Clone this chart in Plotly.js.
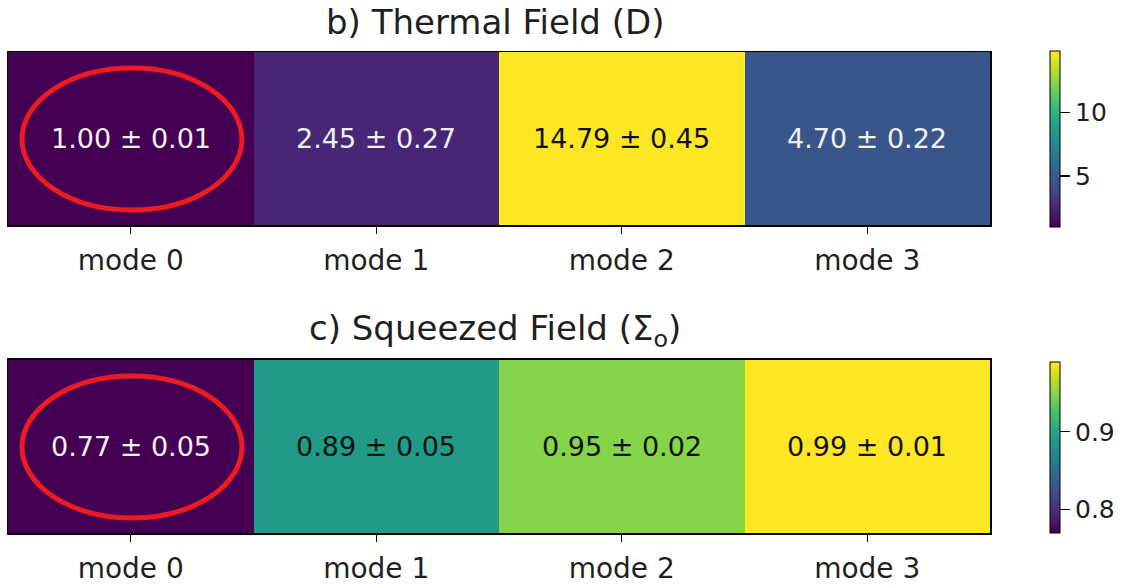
<!DOCTYPE html>
<html>
<head>
<meta charset="utf-8">
<script src="https://cdn.plot.ly/plotly-3.0.1.min.js"></script>
<style>
  html, body { margin: 0; padding: 0; background: #ffffff; }
  #chart { width: 1132px; height: 588px; }
</style>
</head>
<body>
<div id="chart"></div>
<script>
// Mode labels shared by both panels
const modes = ["mode 0", "mode 1", "mode 2", "mode 3"];

// Panel b: thermal field D, mean and uncertainty per mode
const thermalMean = [1.00, 2.45, 14.79, 4.70];
const thermalErr = [0.01, 0.27, 0.45, 0.22];

// Panel c: squeezed field, mean and uncertainty per mode
const squeezedMean = [0.77, 0.89, 0.95, 0.99];
const squeezedErr = [0.05, 0.05, 0.02, 0.01];

// Panel titles and colorbar ticks
const thermalTitle = "b) Thermal Field (D)";
const squeezedTitle = "c) Squeezed Field (Σ<sub>o</sub>)";
const thermalTicks = [5, 10];
const squeezedTicks = [0.8, 0.9];

const FONT = "DejaVu Sans, sans-serif";
const INK = "#1f1f1f";

// Viridis sampled at 11 evenly spaced stops
const viridis = [
  [0.0, "#440154"], [0.1, "#482475"], [0.2, "#414487"], [0.3, "#355f8d"],
  [0.4, "#2a788e"], [0.5, "#21918c"], [0.6, "#22a884"], [0.7, "#44bf70"],
  [0.8, "#7ad151"], [0.9, "#bddf26"], [1.0, "#fde725"]
];

function heat(z, xa, ya, ticks, cbY, cbLen) {
  return {
    type: "heatmap",
    x: modes,
    y: [0],
    z: [z],
    xaxis: xa,
    yaxis: ya,
    colorscale: viridis,
    zmin: Math.min(...z),
    zmax: Math.max(...z),
    hoverinfo: "skip",
    colorbar: {
      x: 1.061, xanchor: "left", xref: "paper",
      y: cbY, yanchor: "middle", yref: "paper",
      len: cbLen, lenmode: "pixels",
      thickness: 10,
      outlinewidth: 1, outlinecolor: "#000",
      ticks: "outside", ticklen: 10, tickwidth: 1.2, tickcolor: "#000",
      tickvals: ticks,
      tickfont: { family: FONT, size: 25, color: INK },
      xpad: 0, ypad: 0
    }
  };
}

// Cell labels "mean ± err", light text on dark cells, dark text on bright cells
function cellLabels(means, errs, xa, ya) {
  const lo = Math.min(...means), hi = Math.max(...means);
  return means.map((m, i) => {
    const frac = (m - lo) / (hi - lo);
    return {
      x: modes[i], y: 0, xref: xa, yref: ya,
      text: m.toFixed(2) + " ± " + errs[i].toFixed(2),
      showarrow: false,
      font: { family: FONT, size: 27, color: frac > 0.5 ? "#111111" : "#f0f0f0" }
    };
  });
}

const data = [
  heat(thermalMean, "x", "y", thermalTicks, 0.819, 176),
  heat(squeezedMean, "x2", "y2", squeezedTicks, 0.178, 171)
];

const axisX = (anchor) => ({
  anchor: anchor,
  domain: [0, 1],
  showgrid: false, zeroline: false,
  showline: true, mirror: true, linecolor: "#000", linewidth: 1.5,
  ticks: "outside", ticklen: 7, tickwidth: 1.2, tickcolor: "#000",
  ticklabelstandoff: 3,
  tickfont: { family: FONT, size: 28, color: INK },
  fixedrange: true
});
const axisY = (anchor, domain) => ({
  anchor: anchor,
  domain: domain,
  range: [-0.5, 0.5],
  showgrid: false, zeroline: false,
  showline: true, mirror: true, linecolor: "#000", linewidth: 1.5,
  showticklabels: false, ticks: "",
  fixedrange: true
});

const annotations = [
  ...cellLabels(thermalMean, thermalErr, "x", "y"),
  ...cellLabels(squeezedMean, squeezedErr, "x2", "y2"),
  { text: thermalTitle, xref: "paper", yref: "paper", x: 0.496, y: 1.062,
    xanchor: "center", yanchor: "middle", showarrow: false,
    font: { family: FONT, size: 34, color: INK } },
  { text: squeezedTitle, xref: "paper", yref: "paper", x: 0.496, y: 0.42,
    xanchor: "center", yanchor: "middle", showarrow: false,
    font: { family: FONT, size: 34, color: INK } }
];

// Red highlight rings around mode 0 in each panel
const ring = (xa, ya) => ({
  type: "circle", xref: xa, yref: ya,
  x0: -0.443, x1: 0.453, y0: -0.413, y1: 0.407,
  line: { color: "#ee1a22", width: 5 }
});

const layout = {
  width: 1132, height: 588,
  margin: { l: 8, r: 142, t: 52, b: 55 },
  paper_bgcolor: "#ffffff", plot_bgcolor: "#ffffff",
  showlegend: false,
  xaxis: axisX("y"),
  yaxis: axisY("x", [0.640, 1]),
  xaxis2: axisX("y2"),
  yaxis2: axisY("x2", [0, 0.3597]),
  annotations: annotations,
  shapes: [ring("x", "y"), ring("x2", "y2")]
};

Plotly.newPlot("chart", data, layout, { displayModeBar: false, staticPlot: true });
</script>
</body>
</html>
